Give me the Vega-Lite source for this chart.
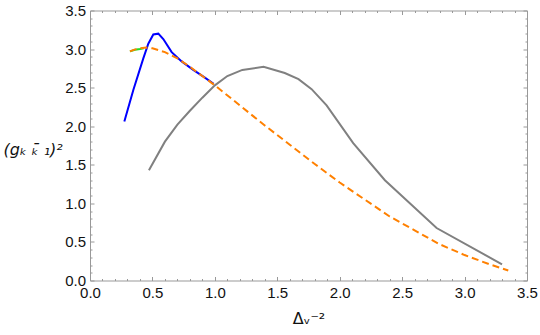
{
  "$schema": "https://vega.github.io/schema/vega-lite/v6.json",
  "width": 437,
  "height": 270,
  "autosize": "none",
  "padding": {"left": 90, "top": 10.5, "right": 13, "bottom": 54.5},
  "background": "white",
  "config": {
    "view": {"stroke": "#999999", "strokeWidth": 1},
    "axis": {
      "domain": false,
      "grid": false,
      "labelFlush": false,
      "tickColor": "#999999",
      "tickWidth": 1,
      "labelFont": "Liberation Sans",
      "labelFontSize": 15,
      "labelColor": "#111111",
      "titleFont": "DejaVu Sans",
      "titleFontWeight": "normal",
      "titleFontSize": 16,
      "titleColor": "#111111"
    }
  },
  "data": {
    "values": [
      {"s": "gray", "x": 0.472, "y": 1.43},
      {"s": "gray", "x": 0.6, "y": 1.80},
      {"s": "gray", "x": 0.7, "y": 2.02},
      {"s": "gray", "x": 0.8, "y": 2.20},
      {"s": "gray", "x": 0.9, "y": 2.37},
      {"s": "gray", "x": 1.0, "y": 2.53},
      {"s": "gray", "x": 1.1, "y": 2.65},
      {"s": "gray", "x": 1.22, "y": 2.73},
      {"s": "gray", "x": 1.39, "y": 2.77},
      {"s": "gray", "x": 1.56, "y": 2.69},
      {"s": "gray", "x": 1.67, "y": 2.61},
      {"s": "gray", "x": 1.775, "y": 2.48},
      {"s": "gray", "x": 1.895, "y": 2.27},
      {"s": "gray", "x": 2.108, "y": 1.78},
      {"s": "gray", "x": 2.362, "y": 1.30},
      {"s": "gray", "x": 2.776, "y": 0.68},
      {"s": "gray", "x": 3.30, "y": 0.21},
      {"s": "blue", "x": 0.275, "y": 2.06},
      {"s": "blue", "x": 0.347, "y": 2.47},
      {"s": "blue", "x": 0.427, "y": 2.88},
      {"s": "blue", "x": 0.467, "y": 3.07},
      {"s": "blue", "x": 0.507, "y": 3.19},
      {"s": "blue", "x": 0.547, "y": 3.20},
      {"s": "blue", "x": 0.587, "y": 3.13},
      {"s": "blue", "x": 0.654, "y": 2.96},
      {"s": "blue", "x": 0.734, "y": 2.84},
      {"s": "blue", "x": 0.827, "y": 2.73},
      {"s": "blue", "x": 0.92, "y": 2.63},
      {"s": "blue", "x": 0.99, "y": 2.55},
      {"s": "green", "x": 0.32, "y": 2.97},
      {"s": "green", "x": 0.36, "y": 2.99},
      {"s": "green", "x": 0.40, "y": 3.0},
      {"s": "green", "x": 0.43, "y": 3.01},
      {"s": "orange", "x": 0.32, "y": 2.97},
      {"s": "orange", "x": 0.35, "y": 2.99},
      {"s": "orange", "x": 0.4, "y": 3.01},
      {"s": "orange", "x": 0.45, "y": 3.02},
      {"s": "orange", "x": 0.5, "y": 3.01},
      {"s": "orange", "x": 0.6, "y": 2.96},
      {"s": "orange", "x": 0.7, "y": 2.88},
      {"s": "orange", "x": 0.8, "y": 2.77},
      {"s": "orange", "x": 0.9, "y": 2.65},
      {"s": "orange", "x": 1.0, "y": 2.53},
      {"s": "orange", "x": 1.2, "y": 2.27},
      {"s": "orange", "x": 1.4, "y": 2.01},
      {"s": "orange", "x": 1.6, "y": 1.76},
      {"s": "orange", "x": 1.8, "y": 1.51},
      {"s": "orange", "x": 2.0, "y": 1.27},
      {"s": "orange", "x": 2.2, "y": 1.05},
      {"s": "orange", "x": 2.4, "y": 0.83},
      {"s": "orange", "x": 2.6, "y": 0.65},
      {"s": "orange", "x": 2.8, "y": 0.47},
      {"s": "orange", "x": 3.0, "y": 0.33},
      {"s": "orange", "x": 3.2, "y": 0.21},
      {"s": "orange", "x": 3.35, "y": 0.13}
    ]
  },
  "resolve": {"axis": {"x": "independent", "y": "independent"}},
  "layer": [
    {
      "transform": [{"filter": "datum.s === 'gray'"}],
      "mark": {"type": "line", "color": "#808080", "strokeWidth": 2},
      "encoding": {
        "x": {"field": "x", "type": "quantitative", "scale": {"domain": [0, 3.5], "nice": false},
          "axis": {"orient": "bottom", "values": [0, 0.5, 1, 1.5, 2, 2.5, 3, 3.5], "format": ".1f", "tickSize": -4, "labelPadding": 9, "title": "Δᵥ⁻²", "titleY": 43, "titleBaseline": "alphabetic"}},
        "y": {"field": "y", "type": "quantitative", "scale": {"domain": [0, 3.5], "nice": false},
          "axis": {"orient": "left", "values": [0, 0.5, 1, 1.5, 2, 2.5, 3, 3.5], "format": ".1f", "tickSize": -4, "labelPadding": 8.5, "title": "(gₖ ₖ̄ ₁)²", "titleFontStyle": "italic", "titleAngle": 0, "titleAlign": "left", "titleBaseline": "middle", "titleX": -87, "titleY": 139}}
      }
    },
    {
      "transform": [{"filter": "datum.s === 'blue'"}],
      "mark": {"type": "line", "color": "#0000ff", "strokeWidth": 2},
      "encoding": {
        "x": {"field": "x", "type": "quantitative", "axis": {"orient": "top", "values": [0, 0.5, 1, 1.5, 2, 2.5, 3, 3.5], "labels": false, "tickSize": -4, "title": null}},
        "y": {"field": "y", "type": "quantitative", "axis": {"orient": "right", "values": [0, 0.5, 1, 1.5, 2, 2.5, 3, 3.5], "labels": false, "tickSize": -4, "title": null}}
      }
    },
    {
      "transform": [{"filter": "datum.s === 'green'"}],
      "mark": {"type": "line", "color": "#22dd22", "strokeWidth": 2},
      "encoding": {
        "x": {"field": "x", "type": "quantitative", "axis": {"orient": "bottom", "values": [0.1,0.2,0.3,0.4,0.6,0.7,0.8,0.9,1.1,1.2,1.3,1.4,1.6,1.7,1.8,1.9,2.1,2.2,2.3,2.4,2.6,2.7,2.8,2.9,3.1,3.2,3.3,3.4], "labels": false, "tickSize": -2, "title": null}},
        "y": {"field": "y", "type": "quantitative", "axis": {"orient": "left", "values": [0.1,0.2,0.3,0.4,0.6,0.7,0.8,0.9,1.1,1.2,1.3,1.4,1.6,1.7,1.8,1.9,2.1,2.2,2.3,2.4,2.6,2.7,2.8,2.9,3.1,3.2,3.3,3.4], "labels": false, "tickSize": -2, "title": null}}
      }
    },
    {
      "transform": [{"filter": "datum.s === 'orange'"}],
      "mark": {"type": "line", "color": "#ff8000", "strokeWidth": 2, "strokeDash": [7, 4]},
      "encoding": {
        "x": {"field": "x", "type": "quantitative", "axis": {"orient": "top", "values": [0.1,0.2,0.3,0.4,0.6,0.7,0.8,0.9,1.1,1.2,1.3,1.4,1.6,1.7,1.8,1.9,2.1,2.2,2.3,2.4,2.6,2.7,2.8,2.9,3.1,3.2,3.3,3.4], "labels": false, "tickSize": -2, "title": null}},
        "y": {"field": "y", "type": "quantitative", "axis": {"orient": "right", "values": [0.1,0.2,0.3,0.4,0.6,0.7,0.8,0.9,1.1,1.2,1.3,1.4,1.6,1.7,1.8,1.9,2.1,2.2,2.3,2.4,2.6,2.7,2.8,2.9,3.1,3.2,3.3,3.4], "labels": false, "tickSize": -2, "title": null}}
      }
    }
  ]
}
